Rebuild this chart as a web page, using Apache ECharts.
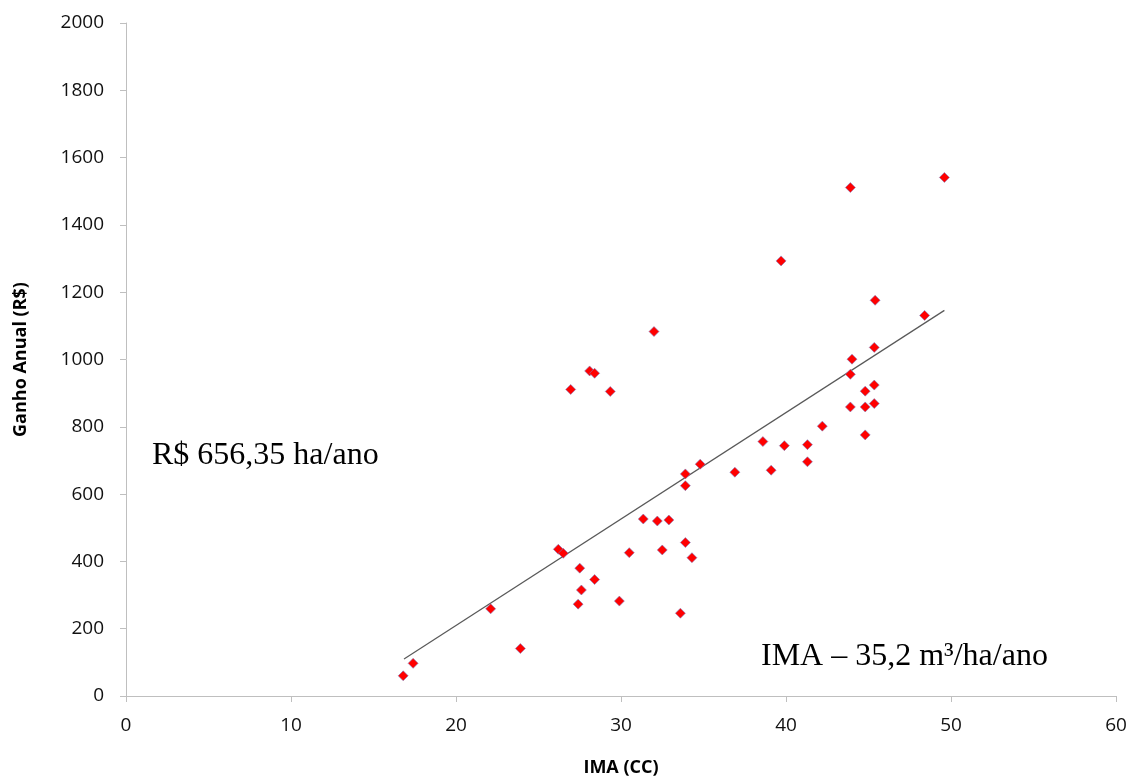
<!DOCTYPE html>
<html>
<head>
<meta charset="utf-8">
<script src="https://cdn.jsdelivr.net/npm/echarts@6/dist/echarts.min.js"></script>
<style>
  html, body { margin: 0; padding: 0; background: #fff; }
  #main { width: 1131px; height: 778px; }
</style>
</head>
<body>
<div id="main"></div>
<script>
// IMA (CC) values, x axis
var ima = [16.8, 17.4, 22.1, 23.9, 26.2, 26.5, 26.95, 27.4, 27.5, 27.6,
  28.1, 28.4, 28.4, 29.35, 29.9, 30.5, 31.35, 32.0, 32.2, 32.5,
  32.9, 33.6, 33.9, 33.9, 33.9, 34.3, 34.8, 36.9, 38.6, 39.1,
  39.7, 39.9, 41.3, 41.3, 42.2, 43.9, 43.9, 44.0, 43.9, 44.8,
  44.8, 44.8, 45.35, 45.35, 45.35, 45.4, 48.4, 49.6];
// Ganho Anual (R$), y axis
var ganho = [60, 97, 259, 141, 436, 424, 911, 273, 380, 315,
  966, 959, 346, 905, 282, 426, 526, 1083, 520, 434,
  523, 246, 660, 625, 456, 411, 689, 665, 756, 671,
  1293, 744, 696, 747, 802, 1511, 956, 1001, 859, 906,
  859, 776, 1036, 924, 869, 1176, 1131, 1541];
// linear trend line end points
var trendX = [16.85, 49.6];
var trendY = [110, 1146];

var pts = ima.map(function (x, i) { return [x, ganho[i]]; });
var trend = trendX.map(function (x, i) { return [x, trendY[i]]; });

var myChart = echarts.init(document.getElementById('main'));
var axisFont = { color: '#111', fontSize: 19, fontFamily: 'Open Sans' };
var titleFont = { color: '#000', fontSize: 18, fontWeight: 'bold', fontFamily: 'Open Sans' };
var option = {
  backgroundColor: '#fff',
  animation: false,
  grid: { left: 126, right: 15, top: 23, bottom: 82, outerBoundsMode: 'none', containLabel: false },
  xAxis: {
    type: 'value', min: 0, max: 60, interval: 10,
    name: 'IMA (CC)', nameLocation: 'middle', nameGap: 63,
    nameTextStyle: titleFont,
    axisLine: { show: true, lineStyle: { color: '#bfbfbf', width: 1 } },
    axisTick: { show: true, length: 6, lineStyle: { color: '#bfbfbf' } },
    axisLabel: Object.assign({ margin: 20 }, axisFont),
    splitLine: { show: false }
  },
  yAxis: {
    type: 'value', min: 0, max: 2000, interval: 200,
    name: 'Ganho Anual (R$)', nameLocation: 'middle', nameGap: 96,
    nameTextStyle: titleFont,
    axisLine: { show: true, lineStyle: { color: '#bfbfbf', width: 1 } },
    axisTick: { show: true, length: 6, lineStyle: { color: '#bfbfbf' } },
    axisLabel: Object.assign({ margin: 22, formatter: function (v) { return String(v); } }, axisFont),
    splitLine: { show: false }
  },
  graphic: [
    { type: 'text', left: 152, top: 440,
      style: { text: 'R$ 656,35 ha/ano', font: '32px "Liberation Serif"', fill: '#000' } },
    { type: 'text', left: 761, top: 641,
      style: { text: 'IMA – 35,2 m³/ha/ano', font: '32px "Liberation Serif"', fill: '#000' } }
  ],
  series: [
    {
      type: 'line', data: trend, symbol: 'none', silent: true,
      lineStyle: { color: '#595959', width: 1.2 }, z: 1
    },
    {
      type: 'scatter', data: pts, symbol: 'diamond', symbolSize: 10,
      itemStyle: { color: '#ff0000', borderColor: '#8080c0', borderWidth: 0.6, opacity: 1 }, z: 2
    }
  ]
};
myChart.setOption(option);
</script>
</body>
</html>
